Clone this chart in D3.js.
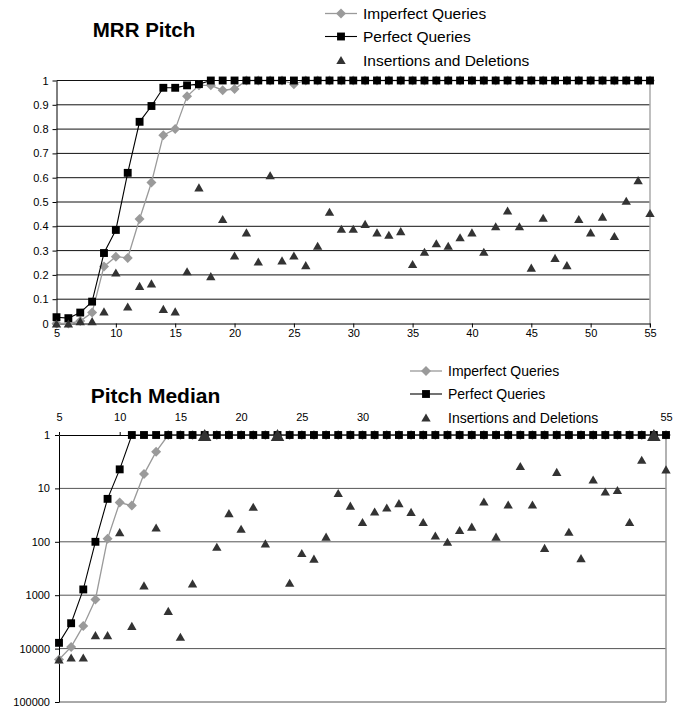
<!DOCTYPE html>
<html>
<head>
<meta charset="utf-8">
<script src="https://cdn.jsdelivr.net/npm/d3@7"></script>
<style>
  body { margin: 0; background: #fff; }
  text { font-family: "Liberation Sans", Arial, Helvetica, sans-serif; }
</style>
</head>
<body>
<svg id="chart" width="685" height="711"></svg>
<script>
// Query length (notes) on the horizontal axis
const lengths = [5, 6, 7, 8, 9, 10, 11, 12, 13, 14, 15, 16, 17, 18, 19, 20, 21, 22, 23, 24, 25,
  26, 27, 28, 29, 30, 31, 32, 33, 34, 35, 36, 37, 38, 39, 40, 41, 42, 43, 44, 45,
  46, 47, 48, 49, 50, 51, 52, 53, 54, 55];

const lengthTicks = [5, 10, 15, 20, 25, 30, 35, 40, 45, 50, 55];
const mrrTicks = [0, 0.1, 0.2, 0.3, 0.4, 0.5, 0.6, 0.7, 0.8, 0.9, 1];
const rankTicks = [1, 10, 100, 1000, 10000, 100000];
// top-axis labels of the median chart that sit under its legend panel
const medianHiddenTicks = [35, 40, 45, 50];

const seriesNames = ["Imperfect Queries", "Perfect Queries", "Insertions and Deletions"];

// Mean reciprocal rank by query length
const mrrImperfect = [0, 0, 0.01, 0.045, 0.235, 0.275, 0.27, 0.43, 0.58, 0.775, 0.8, 0.935, 0.98, 0.98,
  0.96, 0.965, 1, 1, 1, 1, 0.985, 1, 1, 1, 1, 1, 1, 1, 1, 1, 1, 1, 1, 1, 1, 1, 1, 1, 1, 1,
  1, 1, 1, 1, 1, 1, 1, 1, 1, 1, 1];
const mrrPerfect = [0.026, 0.022, 0.045, 0.09, 0.29, 0.385, 0.62, 0.83, 0.895, 0.97, 0.97, 0.98, 0.985,
  1, 1, 1, 1, 1, 1, 1, 1, 1, 1, 1, 1, 1, 1, 1, 1, 1, 1, 1, 1, 1, 1, 1, 1, 1, 1, 1,
  1, 1, 1, 1, 1, 1, 1, 1, 1, 1, 1];
const mrrInsDel = [0, 0, 0.01, 0.01, 0.05, 0.21, 0.07, 0.155, 0.165, 0.06, 0.05, 0.215, 0.56, 0.195,
  0.43, 0.28, 0.375, 0.255, 0.61, 0.26, 0.28, 0.24, 0.32, 0.46, 0.39, 0.39, 0.41, 0.375, 0.365, 0.38,
  0.245, 0.295, 0.33, 0.32, 0.355, 0.375, 0.295, 0.4, 0.465, 0.4, 0.23, 0.435, 0.27, 0.24, 0.43,
  0.375, 0.44, 0.36, 0.505, 0.59, 0.455];

// Median rank of the correct piece by query length
const medImperfect = [16000, 9300, 3760, 1200, 88, 18.4, 21, 5.4, 2.05, 1, 1, 1, 1, 1, 1, 1, 1, 1,
  1, 1, 1, 1, 1, 1, 1, 1, 1, 1, 1, 1, 1, 1, 1, 1, 1, 1, 1, 1, 1, 1, 1, 1, 1, 1, 1, 1, 1, 1, 1, 1, 1];
const medPerfect = [7800, 3350, 780, 100, 15.7, 4.4, 1, 1, 1, 1, 1, 1, 1, 1, 1, 1, 1, 1, 1, 1, 1,
  1, 1, 1, 1, 1, 1, 1, 1, 1, 1, 1, 1, 1, 1, 1, 1, 1, 1, 1, 1, 1, 1, 1, 1, 1, 1, 1, 1, 1, 1];
const medInsDel = [16000, 14700, 14700, 5600, 5600, 66, 3760, 655, 54, 1970, 6000, 600, 1, 124, 29,
  57, 22, 107, 1, 583, 162, 207, 80, 12.2, 21, 42.5, 27, 22.8, 18.9, 27.5, 42.5, 76, 100, 60, 52,
  17.6, 80, 20, 3.8, 20, 130, 4.9, 65, 202, 6.8, 11.4, 10.7, 42.5, 2.9, 1, 4.4];

const svg = d3.select("#chart");
svg.append("rect").attr("width", 685).attr("height", 711).attr("fill", "#fff");

// Marker shapes: triangle centred on its bounding box, square turned 45 degrees
const triangleShape = {
  draw(ctx, size) {
    const b = Math.sqrt(size * 4 / Math.sqrt(3));
    const h = b * Math.sqrt(3) / 2;
    ctx.moveTo(0, -h / 2);
    ctx.lineTo(b / 2, h / 2);
    ctx.lineTo(-b / 2, h / 2);
    ctx.closePath();
  }
};
const diamondShape = {
  draw(ctx, size) {
    const r = Math.sqrt(size / 2);
    ctx.moveTo(0, -r);
    ctx.lineTo(r, 0);
    ctx.lineTo(0, r);
    ctx.lineTo(-r, 0);
    ctx.closePath();
  }
};

const styles = [
  { line: "#9a9a9a", width: 1.3, shape: diamondShape, size: 50, fill: "#9a9a9a" },
  { line: "#000", width: 1.1, shape: d3.symbolSquare, size: 62, fill: "#000" },
  { line: null, width: 0, shape: triangleShape, size: 38, fill: "#333" }
];

function drawSeries(g, x, y, values, st, bigAtTop) {
  const pts = lengths.map((L, i) => [L, values[i]]);
  if (st.line) {
    g.append("path")
      .attr("d", d3.line().x(d => x(d[0])).y(d => y(d[1]))(pts))
      .attr("fill", "none")
      .attr("stroke", st.line)
      .attr("stroke-width", st.width);
  }
  g.selectAll(null).data(pts).join("path")
    .attr("transform", d => `translate(${x(d[0])},${y(d[1])})`)
    .attr("d", d => d3.symbol().type(st.shape)
      .size(bigAtTop && d[1] === bigAtTop ? st.size * 2.1 : st.size)())
    .attr("fill", st.fill);
}

function drawLegend(g, x0, rows, fontSize) {
  seriesNames.forEach((name, i) => {
    const st = styles[i];
    const cy = rows[i];
    if (st.line) {
      g.append("line").attr("x1", x0).attr("x2", x0 + 32).attr("y1", cy).attr("y2", cy)
        .attr("stroke", st.line).attr("stroke-width", st.width);
    }
    g.append("path").attr("transform", `translate(${x0 + 16},${cy})`)
      .attr("d", d3.symbol().type(st.shape).size(st.size)())
      .attr("fill", st.fill);
    g.append("text").attr("x", x0 + 38).attr("y", cy).attr("dy", "0.36em")
      .attr("font-size", fontSize).attr("fill", "#000").text(name);
  });
}

// ---------- MRR Pitch ----------
{
  const x = d3.scaleLinear().domain([5, 55]).range([56.5, 650]);
  const y = d3.scaleLinear().domain([0, 1]).range([323.5, 80.5]);
  const g = svg.append("g");

  g.append("text").attr("x", 144).attr("y", 36.5).attr("text-anchor", "middle")
    .attr("font-size", 20.5).attr("font-weight", "bold").text("MRR Pitch");

  // horizontal gridlines
  g.append("g").selectAll("line").data(mrrTicks.slice(1)).join("line")
    .attr("x1", x(5)).attr("x2", x(55)).attr("y1", d => y(d)).attr("y2", d => y(d))
    .attr("stroke", "#111").attr("stroke-width", 1);

  // right border
  g.append("line").attr("x1", x(55)).attr("x2", x(55)).attr("y1", y(1)).attr("y2", y(0) + 4)
    .attr("stroke", "#aaa").attr("stroke-width", 1.5);

  const xAxis = g.append("g").attr("transform", `translate(0,${y(0)})`)
    .call(d3.axisBottom(x).tickValues(lengthTicks).tickSize(4).tickSizeOuter(0).tickPadding(1.5));
  const yAxis = g.append("g").attr("transform", `translate(${x(5)},0)`)
    .call(d3.axisLeft(y).tickValues(mrrTicks).tickFormat(d3.format("~g")).tickSize(4).tickSizeOuter(0).tickPadding(4));
  [xAxis, yAxis].forEach(a => {
    a.selectAll("text").attr("font-size", 11).attr("font-family", null).attr("fill", "#000");
    a.selectAll("line,path").attr("stroke", "#000");
  });

  drawSeries(g, x, y, mrrImperfect, styles[0]);
  drawSeries(g, x, y, mrrPerfect, styles[1]);
  drawSeries(g, x, y, mrrInsDel, styles[2]);

  drawLegend(g, 325, [13.5, 36.5, 60], 15.5);
}

// ---------- Pitch Median ----------
{
  const x = d3.scaleLinear().domain([5, 55]).range([59, 666]);
  const y = d3.scaleLog().domain([1, 100000]).range([435, 702]);
  const g = svg.append("g");

  g.append("text").attr("x", 155.5).attr("y", 402.5).attr("text-anchor", "middle")
    .attr("font-size", 21).attr("font-weight", "bold").text("Pitch Median");

  g.append("g").selectAll("line").data(rankTicks.slice(1)).join("line")
    .attr("x1", x(5)).attr("x2", x(55)).attr("y1", d => y(d)).attr("y2", d => y(d))
    .attr("stroke", "#555").attr("stroke-width", 1);

  g.append("line").attr("x1", x(55)).attr("x2", x(55)).attr("y1", y(1) - 3).attr("y2", y(100000))
    .attr("stroke", "#999").attr("stroke-width", 1.5);

  const xAxis = g.append("g").attr("transform", `translate(0,${y(1)})`)
    .call(d3.axisTop(x).tickValues(lengthTicks).tickSize(3).tickSizeOuter(0).tickPadding(11));
  // labels covered by the legend panel are left out
  xAxis.selectAll(".tick").filter(d => medianHiddenTicks.includes(d)).select("text").remove();
  const yAxis = g.append("g").attr("transform", `translate(${x(5)},0)`)
    .call(d3.axisLeft(y).tickValues(rankTicks).tickFormat(d3.format("d")).tickSize(4).tickSizeOuter(0).tickPadding(5));
  [xAxis, yAxis].forEach(a => {
    a.selectAll("text").attr("font-size", 11).attr("font-family", null).attr("fill", "#000");
    a.selectAll("line,path").attr("stroke", "#000");
  });

  drawSeries(g, x, y, medImperfect, styles[0]);
  drawSeries(g, x, y, medPerfect, styles[1]);
  drawSeries(g, x, y, medInsDel, styles[2], 1);

  // legend sits on a white panel over the top axis
  g.append("rect").attr("x", 402).attr("y", 356).attr("width", 222).attr("height", 72).attr("fill", "#fff");
  drawLegend(g, 410, [371, 394, 417.5], 14);
}
</script>
</body>
</html>
